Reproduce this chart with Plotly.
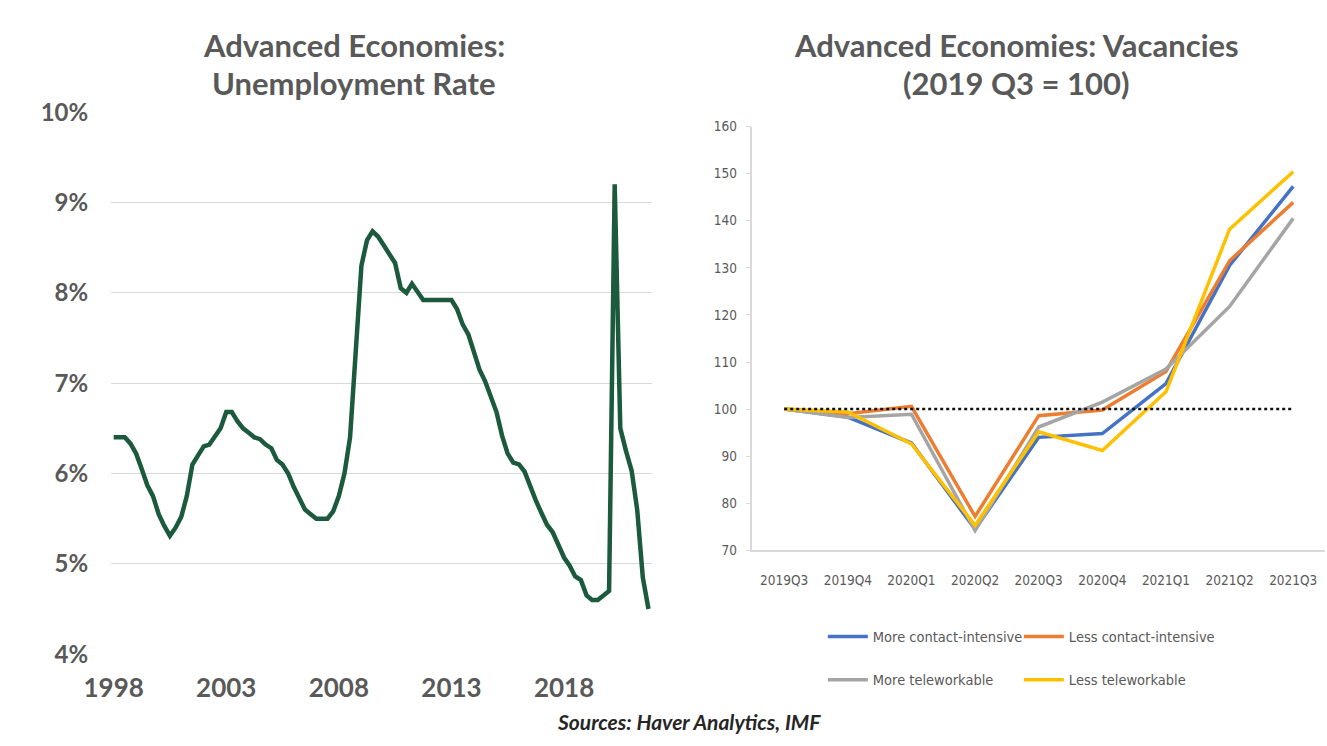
import pandas as pd
import plotly.graph_objects as go

# ---------------- data ----------------
unemp_start = "1998-01-01"
unemp_rate = [
    6.40, 6.40, 6.40, 6.33, 6.22, 6.05, 5.87, 5.75, 5.55, 5.42,
    5.31, 5.40, 5.52, 5.75, 6.10, 6.20, 6.30, 6.32, 6.40, 6.50,
    6.68, 6.68, 6.58, 6.50, 6.45, 6.40, 6.38, 6.32, 6.28, 6.15,
    6.10, 6.00, 5.85, 5.72, 5.60, 5.55, 5.50, 5.50, 5.50, 5.58,
    5.75, 6.00, 6.40, 7.35, 8.30, 8.58, 8.68, 8.62, 8.52, 8.43,
    8.33, 8.05, 8.00, 8.10, 8.00, 7.92, 7.92, 7.92, 7.92, 7.92,
    7.92, 7.82, 7.65, 7.54, 7.35, 7.15, 7.02, 6.85, 6.68, 6.42,
    6.22, 6.12, 6.10, 6.02, 5.85, 5.70, 5.56, 5.43, 5.35, 5.22,
    5.07, 4.98, 4.86, 4.82, 4.65, 4.60, 4.60, 4.65, 4.70, 9.20,
    6.50, 6.25, 6.03, 5.60, 4.85, 4.50,
]
unemp_ticks = ["1998", "2003", "2008", "2013", "2018"]
unemp_yticks = [4, 5, 6, 7, 8, 9, 10]

quarters = ["2019Q3", "2019Q4", "2020Q1", "2020Q2", "2020Q3",
            "2020Q4", "2021Q1", "2021Q2", "2021Q3"]
more_contact = [100, 98.3, 92.8, 74.5, 94.0, 94.8, 105.4, 130.5, 147.3]
less_contact = [100, 99.0, 100.6, 77.2, 98.6, 99.8, 108.0, 131.5, 143.9]
more_telework = [100, 98.2, 98.9, 74.2, 96.2, 101.5, 108.5, 121.8, 140.5]
less_telework = [100, 99.4, 92.6, 75.3, 95.2, 91.2, 103.7, 138.2, 150.4]
baseline = [100] * len(quarters)

# ---------------- figure ----------------
W, H = 1327, 746
def px(x):
    return x / W
def py(y):
    return 1 - y / H

dates = pd.date_range(start=unemp_start, periods=len(unemp_rate), freq="QS")

fig = go.Figure()

fig.add_trace(go.Scatter(
    x=dates, y=unemp_rate, mode="lines",
    line=dict(color="#1b5a3c", width=4.5),
    xaxis="x", yaxis="y", showlegend=False, hoverinfo="x+y",
))

series = [
    ("More contact-intensive", more_contact, "#4472C4", "legend"),
    ("Less contact-intensive", less_contact, "#ED7D31", "legend"),
    ("More teleworkable", more_telework, "#A5A5A5", "legend2"),
    ("Less teleworkable", less_telework, "#FFC000", "legend2"),
]
for name, vals, col, lg in series:
    fig.add_trace(go.Scatter(
        x=quarters, y=vals, mode="lines", name=name,
        line=dict(color=col, width=3.5),
        xaxis="x2", yaxis="y2", legend=lg,
    ))

fig.add_trace(go.Scatter(
    x=quarters, y=baseline, mode="lines",
    line=dict(color="#111111", width=2.5, dash="dot"),
    xaxis="x2", yaxis="y2", showlegend=False,
))

bold_font = "Lato, 'Open Sans', sans-serif"
narrow_font = "'Liberation Sans Narrow', 'DejaVu Sans Condensed', 'Roboto', sans-serif"
gray = "#595959"

fig.update_layout(
    width=W, height=H,
    margin=dict(l=0, r=0, t=0, b=0),
    paper_bgcolor="white", plot_bgcolor="white",
    xaxis=dict(
        domain=[px(85), px(637)], type="date",
        range=["1997-11-22", "2021-11-20"],
        tickvals=[f"{t}-01-01" for t in unemp_ticks],
        ticktext=unemp_ticks,
        showgrid=False, zeroline=False, showline=False, ticks="",
        tickfont=dict(family=bold_font, size=26, color=gray, weight="bold"),
        ticklabelstandoff=16, anchor="y",
    ),
    yaxis=dict(
        domain=[py(664), py(100)], range=[4, 10],
        tickvals=unemp_yticks,
        ticktext=[f"{v}%" for v in unemp_yticks],
        showgrid=True, gridcolor="#d9d9d9", gridwidth=1.2,
        zeroline=False, showline=False, ticks="",
        tickfont=dict(family=bold_font, size=24, color=gray, weight="bold"),
        ticklabelstandoff=22, anchor="x",
    ),
    xaxis2=dict(
        domain=[px(740), px(1325)], type="category",
        range=[-0.5, len(quarters) - 0.5],
        showgrid=False, zeroline=False, showline=True,
        linecolor="#d9d9d9", linewidth=1.5, ticks="",
        tickfont=dict(family=narrow_font, size=13.5, color=gray),
        ticklabelstandoff=17, anchor="y2",
    ),
    yaxis2=dict(
        domain=[py(556), py(115)], range=[70, 160], dtick=10,
        showgrid=False, zeroline=False, showline=True,
        linecolor="#d9d9d9", linewidth=1.5,
        ticks="outside", ticklen=5, tickcolor="#d9d9d9",
        tickfont=dict(family=narrow_font, size=13.5, color=gray),
        ticklabelstandoff=6, anchor="x2",
    ),
    legend=dict(
        orientation="h", x=px(812), y=py(629), xanchor="left", yanchor="top",
        entrywidth=141, entrywidthmode="pixels",
        font=dict(family=narrow_font, size=14.5, color=gray),
        bgcolor="rgba(0,0,0,0)", itemwidth=40,
    ),
    legend2=dict(
        orientation="h", x=px(812), y=py(674), xanchor="left", yanchor="top",
        entrywidth=141, entrywidthmode="pixels",
        font=dict(family=narrow_font, size=14.5, color=gray),
        bgcolor="rgba(0,0,0,0)", itemwidth=40,
    ),
)

title_font = dict(family=bold_font, size=31, color=gray, weight="bold")
titles = [
    ("Advanced Economies:", 333, 30),
    ("Unemployment Rate", 333, 70),
    ("Advanced Economies: Vacancies", 1010, 30),
    ("(2019 Q3 = 100)", 1010, 70),
]
for txt, x, y in titles:
    fig.add_annotation(text=txt, x=px(x), y=py(y), xref="paper", yref="paper",
                       xanchor="center", yanchor="middle", showarrow=False,
                       font=title_font)

fig.add_annotation(
    text="<b><i>Sources: Haver Analytics, IMF</i></b>",
    x=px(675), y=py(734), xref="paper", yref="paper",
    xanchor="center", yanchor="middle", showarrow=False,
    font=dict(family=bold_font, size=21, color="#262626"),
)

fig.write_html(
    "out.html",
    config={"displayModeBar": False},
    post_script="document.body.style.margin='0';document.body.style.overflow='hidden';",
)
